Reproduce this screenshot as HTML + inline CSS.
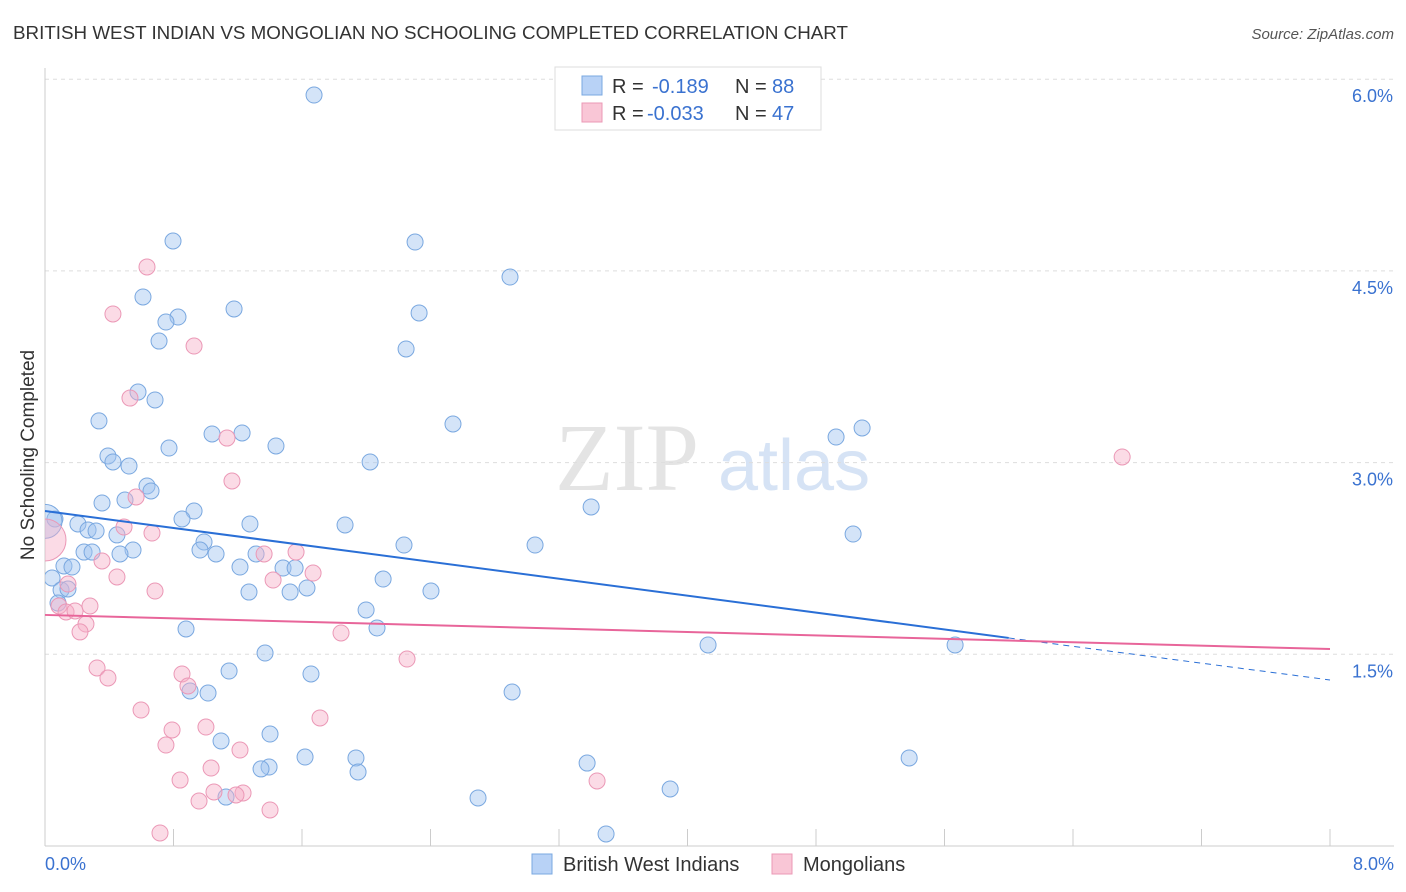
<!DOCTYPE html>
<html><head><meta charset="utf-8">
<style>
body{margin:0;background:#fff;font-family:"Liberation Sans",sans-serif;}
#wrap{position:relative;width:1406px;height:892px;overflow:hidden;}
</style></head>
<body>
<div id="wrap">
<svg id="svg" width="1406" height="892" xmlns="http://www.w3.org/2000/svg">
<defs><clipPath id="plotclip"><rect x="45" y="60" width="1360" height="786"/></clipPath></defs>
<text x="13" y="39" font-size="18" fill="#333" textLength="835" lengthAdjust="spacingAndGlyphs">BRITISH WEST INDIAN VS MONGOLIAN NO SCHOOLING COMPLETED CORRELATION CHART</text>
<text x="1394" y="39" font-size="15" fill="#555" text-anchor="end" font-style="italic">Source: ZipAtlas.com</text>
<text x="34" y="455" font-size="19" fill="#333" text-anchor="middle" transform="rotate(-90 34 455)">No Schooling Completed</text>
<text x="555" y="490" font-size="96" fill="#e4e4e4" font-family="Liberation Serif,serif">ZIP</text>
<text x="718" y="490" font-size="72" fill="#d6e3f5">atlas</text>
<g id="grid"></g><g id="pts" clip-path="url(#plotclip)"></g><g id="lines"></g>
<g>
<rect x="555" y="67" width="266" height="63" fill="#fff" stroke="#ddd"/>
<rect x="582" y="76" width="20" height="19" fill="#b8d2f6" stroke="#7aa8e0"/>
<rect x="582" y="103" width="20" height="19" fill="#f9c6d6" stroke="#eb98b6"/>
<text x="612" y="93" font-size="20" fill="#333">R = </text><text x="652" y="93" font-size="20" fill="#3a72d0">-0.189</text>
<text x="735" y="93" font-size="20" fill="#333">N = </text><text x="772" y="93" font-size="20" fill="#3a72d0">88</text>
<text x="612" y="120" font-size="20" fill="#333">R = </text><text x="647" y="120" font-size="20" fill="#3a72d0">-0.033</text>
<text x="735" y="120" font-size="20" fill="#333">N = </text><text x="772" y="120" font-size="20" fill="#3a72d0">47</text>
</g>
<g>
<rect x="532" y="854" width="20" height="20" fill="#b8d2f6" stroke="#7aa8e0"/>
<text x="563" y="871" font-size="20" fill="#333">British West Indians</text>
<rect x="772" y="854" width="20" height="20" fill="#f9c6d6" stroke="#eb98b6"/>
<text x="803" y="871" font-size="20" fill="#333">Mongolians</text>
</g>
</svg>
</div>
<script>
const yTicks=[1.5,3.0,4.5,6.0];
const yTickLabels=["1.5%","3.0%","4.5%","6.0%"];
const xTicks=[0,0.8,1.6,2.4,3.2,4.0,4.8,5.6,6.4,7.2,8.0];
const xEndLabels=["0.0%","8.0%"];
const blueX=[1.675,0.797,2.304,2.895,0.610,1.177,0.828,0.753,2.329,0.710,2.248,0.579,0.685,0.336,2.540,1.040,1.227,0.772,1.438,4.925,5.087,0.392,0.423,0.523,2.024,0.635,0.660,0.355,0.498,0.928,3.400,0.853,0.205,1.276,1.868,5.031,0.268,0.318,0.448,0.990,0.965,2.235,3.051,0.243,0.293,0.548,0.467,1.065,1.314,0.062,0.118,0.168,1.214,1.482,1.557,0.044,2.105,0.100,0.143,1.270,1.526,1.631,2.403,0.081,1.999,2.067,0.878,4.128,5.666,1.370,1.146,1.656,0.903,1.015,2.908,1.401,1.096,1.619,1.936,5.380,3.375,1.395,1.345,1.949,3.892,2.696,1.127,3.493,0.0];
const blueY=[5.876,4.734,4.726,4.452,4.296,4.202,4.139,4.100,4.171,3.951,3.889,3.552,3.490,3.326,3.302,3.224,3.232,3.114,3.130,3.200,3.271,3.052,3.005,2.973,3.005,2.817,2.778,2.684,2.707,2.621,2.653,2.559,2.520,2.520,2.512,2.441,2.473,2.465,2.434,2.379,2.316,2.355,2.355,2.300,2.300,2.316,2.285,2.285,2.285,2.559,2.191,2.183,2.183,2.175,2.175,2.097,2.089,2.003,2.011,1.987,1.987,2.019,1.995,1.901,1.847,1.706,1.698,1.573,1.573,1.510,1.369,1.346,1.213,1.197,1.205,0.876,0.822,0.696,0.689,0.689,0.649,0.618,0.603,0.579,0.446,0.376,0.383,0.094,2.54];
const pinkX=[0.635,0.423,0.928,0.529,1.133,1.164,6.706,0.567,0.492,0.666,1.364,1.563,0.355,0.448,1.420,1.669,0.685,0.143,0.087,0.131,0.187,0.280,0.255,0.218,1.843,2.254,0.324,0.853,0.392,0.890,1.712,0.598,1.002,0.791,0.753,1.214,1.034,0.841,3.437,1.233,1.052,0.959,1.189,1.401,0.716,0.0];
const pinkY=[4.531,4.163,3.912,3.505,3.192,2.856,3.044,2.731,2.496,2.449,2.285,2.300,2.230,2.105,2.081,2.136,1.995,2.050,1.878,1.831,1.839,1.878,1.737,1.675,1.667,1.463,1.393,1.346,1.315,1.252,1.002,1.064,0.931,0.908,0.790,0.751,0.610,0.516,0.509,0.415,0.423,0.352,0.399,0.282,0.102,2.394];
const blueTrend=[[0,2.621],[6.0,1.628]];
const blueTrendExt=[[6.0,1.628],[8.0,1.299]];
const pinkTrend=[[0,1.808],[8.0,1.541]];
const X=v=>45+v*160.625;
const Y=v=>846-v*127.8;
const NS="http://www.w3.org/2000/svg";
function mk(tag,attrs,parent){const e=document.createElementNS(NS,tag);for(const k in attrs)e.setAttribute(k,attrs[k]);parent.appendChild(e);return e;}
const grid=document.getElementById('grid');
yTicks.forEach((t,i)=>{
  const l=mk('line',{x1:45,x2:1394,y1:Y(t),y2:Y(t),stroke:'#ddd','stroke-dasharray':'4,4'},grid);
  
  
  const tx=mk('text',{x:1393,y:Y(t)+23,'font-size':18,fill:'#3a72d0','text-anchor':'end'},grid);
  tx.textContent=yTickLabels[i];
  
  
});
const ax=mk('line',{x1:45,x2:1394,y1:846,y2:846,stroke:'#ccc'},grid);


const ay=mk('line',{x1:45,x2:45,y1:68,y2:846,stroke:'#ccc'},grid);


xTicks.forEach(t=>{
  const l=mk('line',{x1:X(t),x2:X(t),y1:829,y2:846,stroke:'#ccc'},grid);
  
  
});
[[0,'start',45],[8,'end',1394]].forEach((d,i)=>{
  const tx=mk('text',{x:d[2],y:870,'font-size':18,fill:'#3a72d0','text-anchor':d[1]},grid);
  tx.textContent=xEndLabels[i];
  
  
});
const pts=document.getElementById('pts');
blueX.forEach((x,i)=>{
  const big=(x===0);
  const c=mk('circle',{cx:X(x),cy:Y(blueY[i]),r:big?17:8,fill:'rgba(160,196,240,0.45)',stroke:'#7aa8e0','stroke-width':1},pts);
  
  
});
pinkX.forEach((x,i)=>{
  const big=(x===0);
  const c=mk('circle',{cx:X(x),cy:Y(pinkY[i]),r:big?21:8,fill:'rgba(246,175,200,0.45)',stroke:'#eb98b6','stroke-width':1},pts);
  
  
});
const lines=document.getElementById('lines');
const bl=mk('line',{x1:X(blueTrend[0][0]),y1:Y(blueTrend[0][1]),x2:X(blueTrend[1][0]),y2:Y(blueTrend[1][1]),stroke:'#2a6fd6','stroke-width':2},lines);


const bd=mk('line',{x1:X(blueTrendExt[0][0]),y1:Y(blueTrendExt[0][1]),x2:X(blueTrendExt[1][0]),y2:Y(blueTrendExt[1][1]),stroke:'#2a6fd6','stroke-width':1,'stroke-dasharray':'6,5'},lines);


const pl=mk('line',{x1:X(pinkTrend[0][0]),y1:Y(pinkTrend[0][1]),x2:X(pinkTrend[1][0]),y2:Y(pinkTrend[1][1]),stroke:'#e8659a','stroke-width':2},lines);


</script>
</body></html>
